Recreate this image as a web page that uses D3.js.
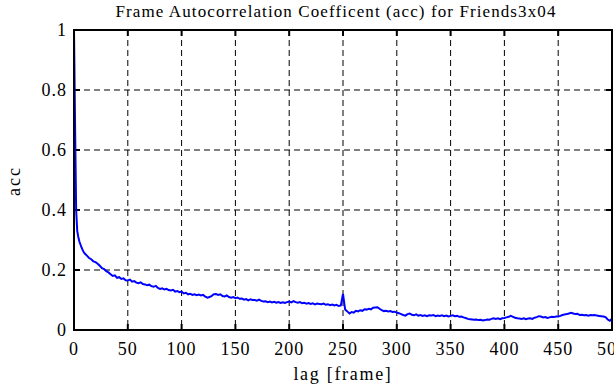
<!DOCTYPE html>
<html><head><meta charset="utf-8">
<script src="https://cdn.jsdelivr.net/npm/d3@7"></script>
<style>body{margin:0;background:#fff}svg{display:block}text{font-family:"Liberation Serif","Times New Roman",serif;fill:#000}</style>
</head><body><div id="chart"></div>
<script>
const title = "Frame Autocorrelation Coefficent (acc) for Friends3x04";
const xLabel = "lag [frame]";
const yLabel = "acc";
const xTicks = [0,50,100,150,200,250,300,350,400,450,500];
const yTicks = [0,0.2,0.4,0.6,0.8,1];
// lags 0..9 step 1, then 10..500 step 2
const lags = d3.range(0,10).concat(d3.range(10,501,2));
const acc = [
1.0,0.68,0.40,0.33,0.31,0.295,0.285,0.275,0.267,0.260,
0.255,0.248,0.240,0.236,0.229,0.226,0.221,0.214,0.206,0.203,
0.196,0.192,0.186,0.180,0.182,0.174,0.176,0.170,0.172,0.166,
0.165,0.168,0.161,0.163,0.158,0.156,0.159,0.153,0.152,0.149,
0.151,0.146,0.144,0.147,0.140,0.137,0.139,0.135,0.137,0.133,
0.132,0.134,0.128,0.130,0.126,0.128,0.122,0.124,0.119,0.121,
0.117,0.119,0.116,0.118,0.115,0.117,0.111,0.108,0.110,0.114,
0.119,0.120,0.117,0.119,0.113,0.112,0.115,0.110,0.108,0.110,
0.106,0.108,0.104,0.105,0.101,0.103,0.099,0.102,0.100,0.100,
0.098,0.101,0.097,0.095,0.096,0.093,0.095,0.092,0.094,0.091,
0.093,0.090,0.092,0.090,0.093,0.095,0.092,0.096,0.093,0.091,
0.093,0.089,0.091,0.088,0.090,0.087,0.089,0.085,0.088,0.087,
0.086,0.088,0.084,0.086,0.083,0.085,0.082,0.084,0.080,0.082,
0.120,0.068,0.062,0.055,0.060,0.058,0.064,0.062,0.066,0.064,
0.069,0.068,0.071,0.069,0.074,0.075,0.076,0.071,0.066,0.063,
0.064,0.062,0.063,0.060,0.061,0.058,0.056,0.053,0.050,0.048,
0.053,0.055,0.051,0.049,0.052,0.048,0.050,0.047,0.049,0.046,
0.049,0.048,0.050,0.046,0.048,0.047,0.049,0.046,0.048,0.045,
0.047,0.049,0.046,0.047,0.044,0.045,0.042,0.040,0.037,0.036,
0.035,0.034,0.035,0.033,0.034,0.032,0.033,0.035,0.034,0.037,
0.039,0.037,0.039,0.036,0.039,0.040,0.042,0.044,0.047,0.044,
0.041,0.039,0.038,0.037,0.039,0.036,0.038,0.039,0.037,0.041,
0.043,0.046,0.045,0.042,0.043,0.040,0.042,0.044,0.043,0.045,
0.045,0.047,0.050,0.052,0.053,0.055,0.057,0.055,0.053,0.054,
0.050,0.051,0.049,0.050,0.048,0.050,0.049,0.050,0.048,0.047,
0.046,0.045,0.043,0.035,0.031,0.038
];

const W = 614, H = 385;
const m = {left:74, right:612, top:30, bottom:330};
const svg = d3.select("#chart").append("svg").attr("width",W).attr("height",H);
const x = d3.scaleLinear().domain([0,500]).range([m.left,m.right]);
const y = d3.scaleLinear().domain([0,1]).range([m.bottom,m.top]);

// grid
const g = svg.append("g");
g.selectAll(".vg").data(xTicks.slice(1,-1)).enter().append("line")
  .attr("x1",d=>x(d)).attr("x2",d=>x(d)).attr("y1",m.top).attr("y2",m.bottom)
  .attr("stroke","#000").attr("stroke-width",1).attr("stroke-dasharray","6,4");
g.selectAll(".hg").data(yTicks.slice(1,-1)).enter().append("line")
  .attr("y1",d=>y(d)).attr("y2",d=>y(d)).attr("x1",m.left).attr("x2",m.right)
  .attr("stroke","#000").attr("stroke-width",1).attr("stroke-dasharray","6,4");

// ticks (inward, mirrored)
const tl = 6;
xTicks.forEach(t=>{
  g.append("line").attr("x1",x(t)).attr("x2",x(t)).attr("y1",m.bottom).attr("y2",m.bottom-tl).attr("stroke","#000").attr("stroke-width",2);
  g.append("line").attr("x1",x(t)).attr("x2",x(t)).attr("y1",m.top).attr("y2",m.top+tl).attr("stroke","#000").attr("stroke-width",2);
});
yTicks.forEach(t=>{
  g.append("line").attr("y1",y(t)).attr("y2",y(t)).attr("x1",m.left).attr("x2",m.left+tl).attr("stroke","#000").attr("stroke-width",2);
  g.append("line").attr("y1",y(t)).attr("y2",y(t)).attr("x1",m.right).attr("x2",m.right-tl).attr("stroke","#000").attr("stroke-width",2);
});

// data line
const data = lags.map((l,i)=>[l,acc[i]]);
svg.append("path").datum(data)
  .attr("fill","none").attr("stroke","#0000ff").attr("stroke-width",2)
  .attr("d",d3.line().x(d=>x(d[0])).y(d=>y(d[1])));

// frame
svg.append("rect").attr("x",m.left).attr("y",m.top).attr("width",m.right-m.left).attr("height",m.bottom-m.top)
  .attr("fill","none").attr("stroke","#000").attr("stroke-width",2);

// tick labels
svg.selectAll(".xl").data(xTicks).enter().append("text")
  .attr("x",d=>x(d)).attr("y",m.bottom+25).attr("text-anchor","middle")
  .attr("font-size",18).attr("letter-spacing",1).text(d=>d);
svg.selectAll(".yl").data(yTicks).enter().append("text")
  .attr("x",m.left-7).attr("y",d=>y(d)+6).attr("text-anchor","end")
  .attr("font-size",18).attr("letter-spacing",1).text(d=>d);

// titles
svg.append("text").attr("x",336).attr("y",17).attr("text-anchor","middle")
  .attr("font-size",17).attr("letter-spacing",1.1).text(title);
svg.append("text").attr("x",343).attr("y",380).attr("text-anchor","middle")
  .attr("font-size",18).attr("letter-spacing",1.7).text(xLabel);
svg.append("text").attr("transform","translate(20,181) rotate(-90)").attr("text-anchor","middle")
  .attr("font-size",18).attr("letter-spacing",2).text(yLabel);
</script></body></html>
